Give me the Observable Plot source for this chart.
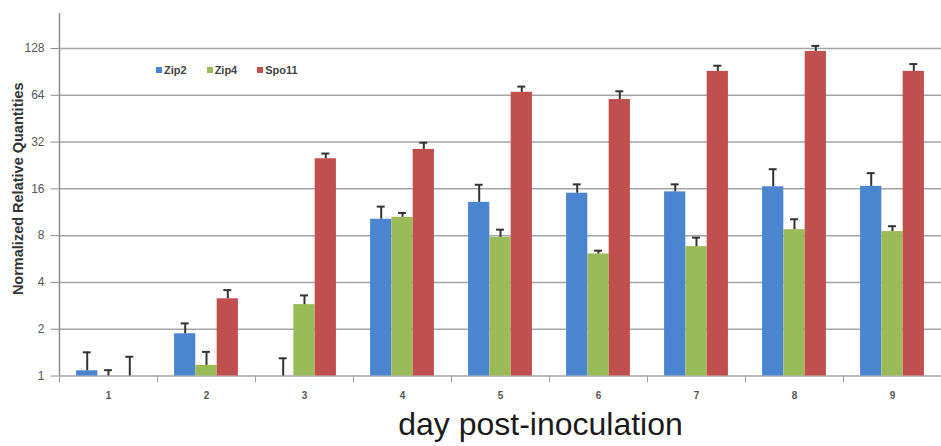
<!DOCTYPE html>
<html><head><meta charset="utf-8">
<script src="https://cdn.jsdelivr.net/npm/d3@7"></script>
<script src="https://cdn.jsdelivr.net/npm/@observablehq/plot@0.6"></script>
<style>
body{margin:0;background:#fff;}
#wrap{position:relative;width:941px;height:446px;}
#legend{position:absolute;left:156px;top:64px;font:bold 11px "Liberation Sans",Arial,sans-serif;color:#444;display:flex;}
.sw{display:inline-flex;align-items:center;margin-right:20px;}
.sw i{display:inline-block;width:6px;height:6px;margin-right:2px;}
</style></head><body><div id="wrap"><div id="chart"></div><div id="legend"></div></div>
<script>
const days = ["1","2","3","4","5","6","7","8","9"];
const genes = ["Zip2","Zip4","Spo11"];
const colors = ["#4c85cf","#9bbb59","#c0504d"];
const zip2    = [1.08, 1.87, 1.0, 10.2, 13.1, 15.0, 15.3, 16.5, 16.6];
const zip2Err = [1.42, 2.18, 1.30, 12.3, 17.0, 17.1, 17.1, 21.4, 20.2];
const zip4    = [1.0, 1.17, 2.88, 10.5, 7.8, 6.1, 6.8, 8.74, 8.5];
const zip4Err = [1.09, 1.43, 3.3, 11.2, 8.74, 6.4, 7.77, 10.2, 9.2];
const spo11    = [1.0, 3.14, 25.0, 28.7, 66.9, 60.1, 91.2, 122.5, 91.2];
const spo11Err = [1.33, 3.57, 27.0, 31.7, 72.8, 67.9, 99.2, 133, 101.6];
const yTicks = [1, 2, 4, 8, 16, 32, 64, 128];
const yMax = 215;
const yTitle = "Normalized Relative Quantities";
const xTitle = "day post-inoculation";

const values = [zip2, zip4, spo11];
const errs = [zip2Err, zip4Err, spo11Err];
const rows = [];
genes.forEach((g, k) => days.forEach((d, i) => rows.push({day: d, gene: g, value: values[k][i], err: errs[k][i]})));

const W = 941, H = 446, mL = 58.5, mR = 0, mT = 13, mB = 70.5;
const bandW = (W - mL - mR) / days.length;
const barW = 21.3;
const off = (bandW - 3 * barW) / 2;

const marks = [Plot.ruleY(yTicks, {stroke: "#a5a5a5", strokeWidth: 1.5})];
genes.forEach((g, k) => {
  const data = rows.filter(r => r.gene === g);
  const c = off + k * barW + barW / 2;
  marks.push(Plot.barY(data, {x: "day", y1: 1, y2: "value", fill: colors[k],
    insetLeft: off + k * barW, insetRight: bandW - off - (k + 1) * barW}));
  marks.push(Plot.ruleX(data, {x: "day", y1: "value", y2: "err", dx: c - bandW / 2, stroke: "#333", strokeWidth: 2}));
  marks.push(Plot.tickY(data, {x: "day", y: "err", insetLeft: c - 4, insetRight: bandW - c - 4, stroke: "#333", strokeWidth: 2}));
});
// y axis line and ticks
marks.push(Plot.ruleX([days[0]], {x: d => d, y1: 1, y2: yMax, dx: -bandW / 2, stroke: "#8c8c8c", strokeWidth: 1.5}));
marks.push(Plot.axisY({ticks: yTicks, tickSize: 8, tickFormat: () => "", stroke: "#8c8c8c", label: null}));
marks.push(Plot.text(yTicks, {y: d => d, text: d => String(d), frameAnchor: "left", textAnchor: "end", lineAnchor: "middle", dx: -14.5, fill: "#555", fontSize: 12}));
// x axis boundary ticks and labels
marks.push(Plot.ruleX(days, {x: d => d, y1: 1, y2: 1, insetBottom: -7, dx: -bandW / 2, stroke: "#a0a0a0", strokeWidth: 1}));
marks.push(Plot.text(days, {x: d => d, text: d => d, frameAnchor: "bottom", lineAnchor: "middle", dy: 19.5, fontSize: 10, fontWeight: "bold", fill: "#555"}));
// titles
marks.push(Plot.text([yTitle], {text: d => d, frameAnchor: "left", textAnchor: "middle", lineAnchor: "middle", rotate: -90, dx: -40.5, dy: -6, fontWeight: "bold", fontSize: 14.5, fill: "#333"}));
marks.push(Plot.text([xTitle], {text: d => d, frameAnchor: "bottom", textAnchor: "middle", lineAnchor: "middle", dy: 48.3, dx: 40.25, fontSize: 32, fill: "#1a1a1a"}));

const chart = Plot.plot({
  width: W, height: H,
  marginLeft: mL, marginRight: mR, marginTop: mT, marginBottom: mB,
  style: {fontFamily: "'Liberation Sans', Arial, sans-serif", fontSize: "12px", background: "#fff"},
  x: {type: "band", domain: days, padding: 0, label: null, axis: null},
  y: {type: "log", domain: [1, yMax], label: null},
  marks
});
document.getElementById("chart").appendChild(chart);

const leg = document.getElementById("legend");
genes.forEach((g, k) => {
  const s = document.createElement("span");
  s.className = "sw";
  const i = document.createElement("i");
  i.style.background = colors[k];
  s.appendChild(i);
  s.appendChild(document.createTextNode(g));
  leg.appendChild(s);
});
</script></body></html>
